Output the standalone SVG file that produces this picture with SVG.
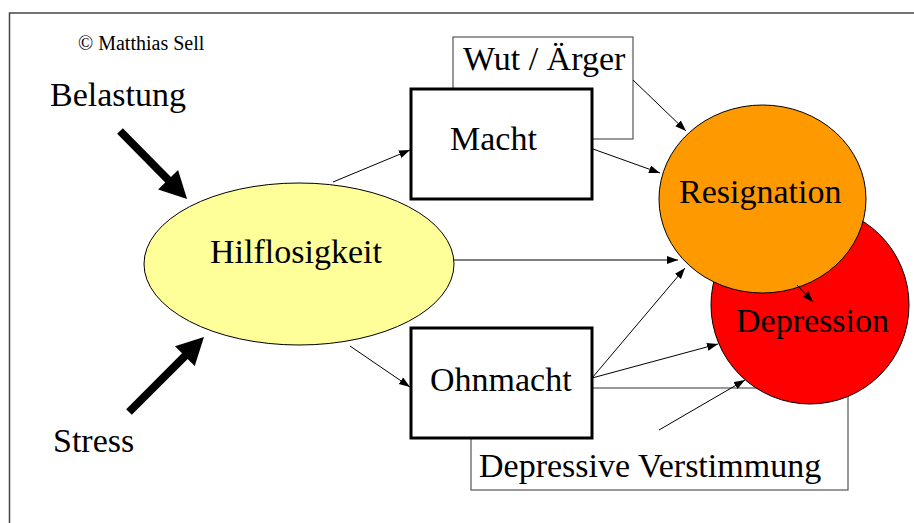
<svg xmlns="http://www.w3.org/2000/svg" width="914" height="523" viewBox="0 0 914 523">
  <defs>
    <marker id="ah" markerUnits="userSpaceOnUse" markerWidth="12" markerHeight="10" refX="11" refY="4" orient="auto">
      <path d="M0,0 L11,4 L0,8 Z" fill="#000"/>
    </marker>
    <style>
      text { font-family: "Liberation Serif", "Times New Roman", serif; fill: #000; }
      .big { font-size: 34px; }
      .small { font-size: 20px; }
      .thick { fill: #fff; stroke: #000; stroke-width: 3; }
      .thin { fill: #fff; stroke: #555; stroke-width: 1.2; }
      .conn { stroke: #000; stroke-width: 1; fill: none; marker-end: url(#ah); }
      .bigarrow { fill: #000; }
    </style>
  </defs>

  <rect x="9.5" y="13" width="1000" height="1000" fill="#fff" stroke="#444" stroke-width="1.5"/>

  <text class="small" x="78" y="50">© Matthias Sell</text>

  <g id="belastung">
    <text class="big" x="50" y="106">Belastung</text>
    <path class="bigarrow" transform="translate(120,131) rotate(45.4)" d="M0,-4 L68.5,-4 L68.5,-14 L95.5,0 L68.5,14 L68.5,4 L0,4 Z"/>
  </g>

  <g id="stress">
    <text class="big" x="53" y="452">Stress</text>
    <path class="bigarrow" transform="translate(129,412) rotate(-45)" d="M0,-4 L79,-4 L79,-14 L106,0 L79,14 L79,4 L0,4 Z"/>
  </g>

  <g id="hilflosigkeit">
    <ellipse cx="299" cy="264" rx="155" ry="81" fill="#FFFF99" stroke="#000" stroke-width="1"/>
    <text class="big" x="210" y="263">Hilflosigkeit</text>
  </g>

  <g id="wut">
    <rect class="thin" x="453" y="37" width="180" height="102"/>
    <text class="big" x="463" y="70">Wut / Ärger</text>
  </g>

  <g id="macht">
    <rect class="thick" x="411" y="89" width="181" height="110"/>
    <text class="big" x="450" y="150">Macht</text>
  </g>

  <g id="verstimmung">
    <rect class="thin" x="471" y="388" width="377" height="102"/>
    <text class="big" x="479" y="477">Depressive Verstimmung</text>
  </g>

  <g id="ohnmacht">
    <rect class="thick" x="411" y="328" width="181" height="110"/>
    <text class="big" x="430" y="391">Ohnmacht</text>
  </g>

  <g id="depression">
    <circle cx="810" cy="305" r="99" fill="#FF0000" stroke="#000" stroke-width="1"/>
    <text class="big" x="736" y="332">Depression</text>
  </g>

  <g id="resignation">
    <ellipse cx="762.5" cy="199" rx="103.5" ry="94" fill="#FF9900" stroke="#000" stroke-width="1"/>
    <text class="big" x="679" y="203">Resignation</text>
  </g>

  <g id="connectors">
    <line class="conn" x1="333" y1="182" x2="410" y2="150"/>
    <line class="conn" x1="350" y1="346" x2="410" y2="387"/>
    <line class="conn" x1="454" y1="260" x2="678" y2="260"/>
    <line class="conn" x1="593" y1="149" x2="660" y2="173"/>
    <line class="conn" x1="633" y1="80" x2="686" y2="131"/>
    <line class="conn" x1="592" y1="378" x2="685" y2="268"/>
    <line class="conn" x1="592" y1="378" x2="718" y2="344"/>
    <line class="conn" x1="659" y1="430" x2="745" y2="380"/>
    <line class="conn" x1="797" y1="285" x2="813" y2="302"/>
  </g>
</svg>
